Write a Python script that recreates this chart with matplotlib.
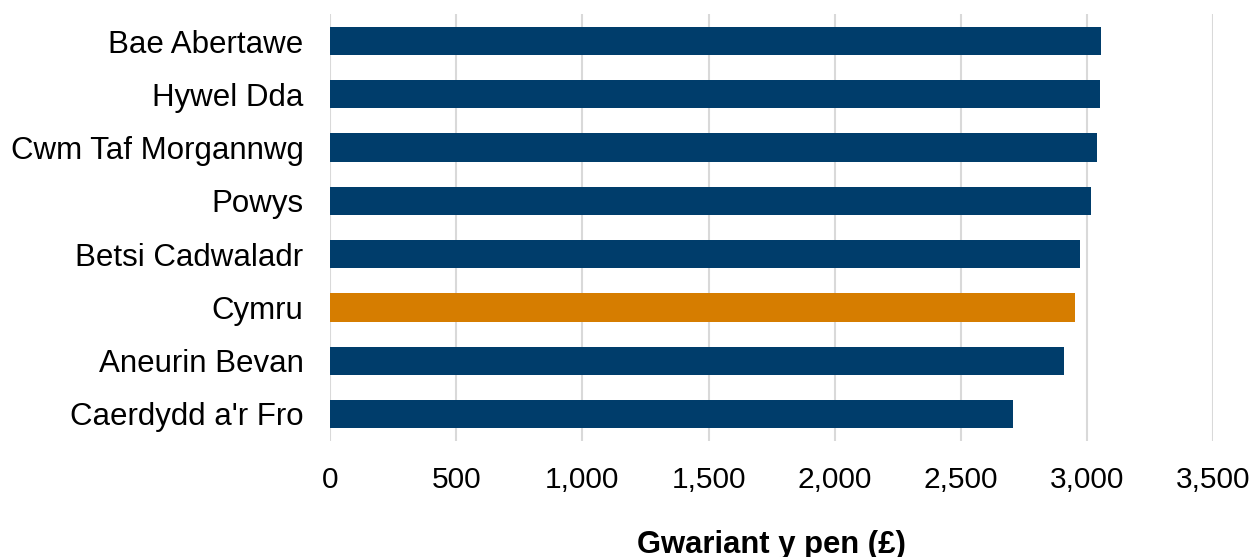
import matplotlib
matplotlib.use("Agg")
import matplotlib.pyplot as plt
from matplotlib.ticker import FuncFormatter, MultipleLocator

categories = ["Bae Abertawe", "Hywel Dda", "Cwm Taf Morgannwg", "Powys",
              "Betsi Cadwaladr", "Cymru", "Aneurin Bevan", "Caerdydd a'r Fro"]
values = [3054, 3050, 3038, 3014, 2972, 2952, 2907, 2708]
highlight = "Cymru"

navy = "#003D6B"
orange = "#D67D00"

plt.rcParams['font.family'] = ['Liberation Sans', 'DejaVu Sans']

fig = plt.figure(figsize=(12.54, 5.57), dpi=100)
ax = fig.add_axes([330/1254, 1 - 440.6/557, (1213.3-330)/1254, (440.6-14.4)/557])

ypos = list(range(len(categories)))
colors = [orange if c == highlight else navy for c in categories]
ax.barh(ypos, values, height=0.53, color=colors, zorder=3)
ax.set_yticks(ypos)
ax.set_yticklabels(categories)
ax.set_ylim(len(categories) - 0.5, -0.5)
ax.set_xlim(0, 3500)
ax.xaxis.set_major_locator(MultipleLocator(500))
ax.xaxis.set_major_formatter(FuncFormatter(lambda v, p: f"{int(v):,}"))
ax.grid(axis='x', color='#D9D9D9', linewidth=1.5, zorder=0)
for s in ax.spines.values():
    s.set_visible(False)
ax.tick_params(axis='both', length=0, colors='black')
ax.tick_params(axis='x', labelsize=21.5, pad=18)
ax.tick_params(axis='y', labelsize=22.5, pad=19)
ax.set_xlabel("Gwariant y pen (£)", fontsize=22.3, fontweight='bold', labelpad=26)

fig.savefig("out.png", dpi=100)
